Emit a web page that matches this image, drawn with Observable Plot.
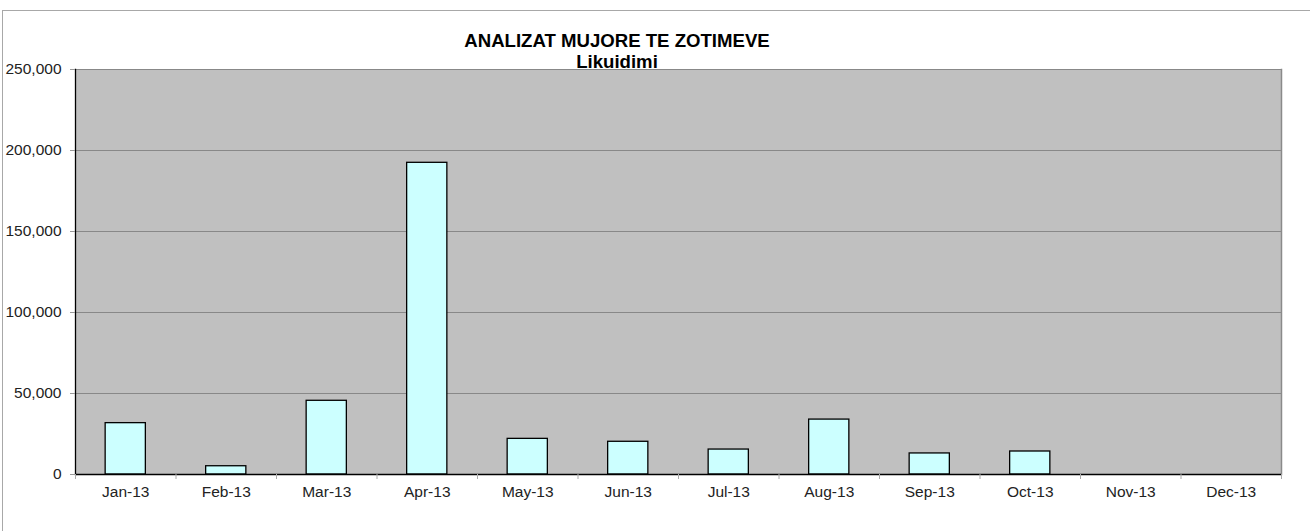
<!DOCTYPE html>
<html>
<head>
<meta charset="utf-8">
<script src="https://cdn.jsdelivr.net/npm/d3@7"></script>
<script src="https://cdn.jsdelivr.net/npm/@observablehq/plot@0.6"></script>
<style>
  html, body { margin: 0; padding: 0; background: #fff; }
  #wrap { position: relative; width: 1310px; height: 531px; overflow: hidden; font-family: "Liberation Sans", Arial, Helvetica, sans-serif; }
  #border { position: absolute; left: 2px; top: 10px; width: 1400px; height: 700px; border-top: 1px solid #a8a8a8; border-left: 1px solid #a8a8a8; box-sizing: border-box; }
  #chart { position: absolute; left: 0; top: 0; }
  #title { position: absolute; left: 0; top: 30px; width: 1234px; text-align: center; font-weight: bold; font-size: 18.6px; line-height: 21px; color: #000; }
</style>
</head>
<body>
<div id="wrap">
  <div id="border"></div>
  <div id="chart"></div>
  <div id="title"></div>
</div>
<script>
const months = ["Jan-13","Feb-13","Mar-13","Apr-13","May-13","Jun-13","Jul-13","Aug-13","Sep-13","Oct-13","Nov-13","Dec-13"];
const values = [31700, 5100, 45500, 192400, 22000, 20200, 15400, 33900, 13000, 14200, 0, 0];
const yTicks = [0, 50000, 100000, 150000, 200000, 250000];
const titleLines = ["ANALIZAT MUJORE TE ZOTIMEVE", "Likuidimi"];

const data = months.map((m, i) => ({month: m, value: values[i]}));

const W = 1310, H = 531, ML = 75, MR = 29, MT = 69, MB = 57;
const step = (W - ML - MR) / months.length;

const chart = Plot.plot({
  width: W, height: H,
  marginLeft: ML, marginRight: MR, marginTop: MT, marginBottom: MB,
  x: {domain: months, paddingInner: 0.6, paddingOuter: 0.3, round: false, label: null},
  y: {domain: [0, 250000], label: null},
  style: {fontFamily: '"Liberation Sans", Arial, Helvetica, sans-serif', fontSize: "15.5px", color: "#222", background: "transparent"},
  marks: [
    Plot.frame({fill: "#c0c0c0", stroke: null}),
    Plot.gridY(yTicks, {stroke: "#888", strokeOpacity: 1, strokeWidth: 1}),
    Plot.frame({anchor: "right", stroke: "#8a8a8a", strokeWidth: 1.5}),
    Plot.barY(data, {x: "month", y: "value", fill: "#ccffff", stroke: "#000", strokeWidth: 1.3, filter: d => d.value > 0}),
    Plot.ruleY([0], {stroke: "#000", strokeWidth: 1.3}),
    Plot.frame({anchor: "left", stroke: "#000", strokeWidth: 1.3}),
    Plot.axisY({ticks: yTicks, tickFormat: d3.format(","), tickSize: 5, tickPadding: 9, stroke: "#999", fill: "#222"}),
    Plot.axisX({tickSize: 0, tickPadding: 11, fill: "#222"}),
    Plot.axisX({tickSize: 5, dx: -step / 2, tickFormat: () => "", stroke: "#aaa"}),
    Plot.axisX({ticks: [months[months.length - 1]], tickSize: 5, dx: step / 2, tickFormat: () => "", stroke: "#aaa"})
  ]
});
document.getElementById("chart").appendChild(chart);
document.getElementById("title").innerHTML = titleLines.map(t => `<div>${t}</div>`).join("");
</script>
</body>
</html>
